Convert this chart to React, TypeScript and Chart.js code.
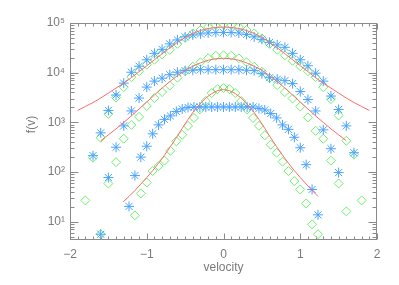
import React, { useEffect, useRef } from 'react';
import { Chart, registerables } from 'chart.js';
Chart.register(...registerables);

// velocity grid (coarse), used by top and middle profiles
const vGrid = [-1.9, -1.8, -1.7, -1.6, -1.5, -1.4, -1.3, -1.2, -1.1, -1.0, -0.9, -0.8, -0.7, -0.6, -0.5, -0.4, -0.3, -0.2, -0.1, 0,
  0.1, 0.2, 0.3, 0.4, 0.5, 0.6, 0.7, 0.8, 0.9, 1.0, 1.1, 1.2, 1.3, 1.4, 1.5, 1.6, 1.7, 1.8, 1.9];
// velocity grid (fine), used by the bottom profile
const vFine = [-1.308, -1.231, -1.154, -1.077, -1.0, -0.923, -0.846, -0.769, -0.692, -0.615, -0.538, -0.462, -0.385, -0.308, -0.231, -0.154, -0.077, 0,
  0.077, 0.154, 0.231, 0.308, 0.385, 0.462, 0.538, 0.615, 0.692, 0.769, 0.846, 0.923, 1.0, 1.077, 1.154, 1.231];

// ---- top profile ----
const topFitV = vGrid;
const topFit = [1740, 2090, 2510, 3090, 3890, 4900, 6170, 7940, 10500, 13800, 18200, 24000, 31600, 40700, 51300, 61700, 70800, 77600, 81300, 83000,
  81300, 77600, 70800, 61700, 51300, 40700, 31600, 24000, 18200, 13800, 10500, 7940, 6170, 4900, 3890, 3090, 2510, 2090, 1740];
const topStarV = vGrid.slice(2, 37);
const topStar = [214, 617, 1740, 3550, 6170, 10200, 13500, 18200, 24500, 29500, 38000, 45700, 52500, 57500, 60300, 63100, 64600, 64600,
  64600, 63100, 58900, 52500, 46800, 40700, 36300, 32400, 24500, 18200, 13800, 9770, 6760, 3390, 1820, 851, 245];
const topDiamondV = vGrid.slice(1, 38);
const topDiamond = [26.9, 195, 490, 1480, 3160, 5130, 8130, 10700, 14500, 18200, 23400, 28800, 38000, 50100, 61700, 72400, 83200, 91200, 93300,
  91200, 83200, 72400, 61700, 49000, 38000, 28800, 22400, 17400, 13500, 10700, 8130, 5130, 2950, 1380, 427, 224, 26.9];

// ---- middle profile ----
const midFitV = vGrid.slice(3, 36);
const midFit = [427, 562, 741, 1000, 1350, 1860, 2570, 3550, 4900, 6610, 8710, 11200, 13500, 15800, 17800, 19100, 19500,
  19100, 17800, 15800, 13500, 11200, 8710, 6610, 4900, 3550, 2570, 1860, 1350, 1000, 741, 562, 427];
const midStarV = vGrid.slice(3, 35);
const midStar = [5.62, 77.6, 316, 851, 1700, 3090, 5130, 6760, 7760, 9120, 10200, 11000, 11200, 11500, 11500, 11500, 11500,
  11500, 11500, 11200, 11000, 9550, 7940, 7410, 6920, 6030, 4170, 2880, 1700, 708, 295, 97.7];
const midDiamondV = vGrid.slice(3, 36);
const midDiamond = [5.62, 58.9, 158, 468, 891, 1290, 2140, 3090, 4070, 5500, 7940, 10700, 13200, 16200, 19500, 21900, 22400,
  21900, 19500, 16200, 13200, 10500, 7760, 5620, 4070, 3020, 2090, 1260, 676, 468, 170, 58.9, 16.2];

// ---- bottom profile ----
const lowFitV = vFine;
const lowFit = [25.1, 32.4, 42.7, 57.5, 77.6, 107, 151, 219, 324, 490, 759, 1150, 1700, 2340, 3090, 3800, 4370, 4570,
  4370, 3800, 3090, 2340, 1700, 1150, 759, 490, 324, 219, 151, 107, 77.6, 57.5, 42.7, 32.4];
const lowStarV = vFine.slice(1, 34);
const lowStar = [20.4, 85.1, 200, 331, 589, 891, 1150, 1350, 1660, 1860, 2000, 2040, 2040, 2040, 2040, 2040, 2040,
  2040, 2040, 2040, 2040, 2040, 1910, 1780, 1510, 1230, 891, 724, 501, 309, 141, 44.7, 13.8];
const lowDiamondV = vFine.slice(2, 34);
const lowDiamond = [13.5, 37.2, 61.7, 105, 132, 170, 269, 417, 562, 851, 1230, 1820, 2690, 3890, 4680, 4900,
  4680, 3890, 2690, 1820, 1230, 851, 550, 355, 245, 162, 105, 66.1, 44.7, 23.4, 8.91, 5.62];

// axes
const xMajorTicks = [-2, -1, 0, 1, 2];
const xMinorStep = 0.1;
const yDecades = [10, 100, 1000, 10000, 100000];
const yTickLabels = ['10¹', '10²', '10³', '10⁴', '10⁵'];
const xTitle = 'velocity';
const yTitle = 'f(v)';

const AXIS = '#8a8a8a';
const TEXT = '#7a7a7a';
const RED = '#ff6a6a';
const GREEN = '#6cf06c';
const BLUE = '#4aa3ff';
const FONT = 'Liberation Sans';

const pts = (xs: number[], ys: number[]) => ys.map((y, i) => ({ x: xs[i], y }));

const framePlugin = {
  id: 'idlFrame',
  beforeDatasetsDraw(chart: any) {
    const { ctx, chartArea: a, scales } = chart;
    const x = scales.x, y = scales.y;
    const L = Math.round(a.left) + 0.5, R = Math.round(a.right) - 0.5;
    const T = Math.round(a.top) + 0.5, B = Math.round(a.bottom) - 0.5;
    ctx.save();
    ctx.strokeStyle = AXIS;
    ctx.lineWidth = 1;
    ctx.strokeRect(L, T, R - L, B - T);
    ctx.beginPath();
    const n = Math.round((xMajorTicks[xMajorTicks.length - 1] - xMajorTicks[0]) / xMinorStep);
    for (let i = 0; i <= n; i++) {
      const v = xMajorTicks[0] + i * xMinorStep;
      const px = Math.round(x.getPixelForValue(v)) + 0.5;
      const major = i % 10 === 0;
      const len = major ? 6 : 3;
      ctx.moveTo(px, B); ctx.lineTo(px, B - len);
      ctx.moveTo(px, T); ctx.lineTo(px, T + len);
    }
    const ymin = y.min, ymax = y.max;
    for (let d = 1; d <= 100000; d *= 10) {
      for (let m = 1; m <= 9; m++) {
        const v = m * d;
        if (v < ymin || v > ymax) continue;
        const py = Math.round(y.getPixelForValue(v)) + 0.5;
        const len = m === 1 ? 8 : 4;
        ctx.moveTo(L, py); ctx.lineTo(L + len, py);
        ctx.moveTo(R, py); ctx.lineTo(R - len, py);
      }
    }
    ctx.stroke();
    ctx.restore();
  },
  afterDraw(chart: any) {
    const { ctx, chartArea: a } = chart;
    ctx.save();
    ctx.fillStyle = TEXT;
    ctx.font = `12px "${FONT}"`;
    ctx.textAlign = 'center';
    ctx.textBaseline = 'middle';
    ctx.translate(32, (a.top + a.bottom) / 2 - 7);
    ctx.rotate(-Math.PI / 2);
    ctx.fillText(yTitle, 0, 0);
    ctx.restore();
  },
};

export default function App() {
  const ref = useRef<HTMLCanvasElement>(null);
  useEffect(() => {
    const starDs = (xs: number[], ys: number[]) => ({
      type: 'scatter' as const, data: pts(xs, ys), showLine: false,
      pointStyle: 'star', pointRadius: 5, borderColor: BLUE, pointBorderColor: BLUE,
      backgroundColor: 'rgba(0,0,0,0)', pointBorderWidth: 1, order: 1,
    });
    const diaDs = (xs: number[], ys: number[]) => ({
      type: 'scatter' as const, data: pts(xs, ys), showLine: false,
      pointStyle: 'rectRot', pointRadius: 4.5, borderColor: GREEN, pointBorderColor: GREEN,
      backgroundColor: 'rgba(0,0,0,0)', pointBackgroundColor: 'rgba(0,0,0,0)', pointBorderWidth: 1, order: 2,
    });
    const fitDs = (xs: number[], ys: number[]) => ({
      type: 'line' as const, data: pts(xs, ys), borderColor: RED, borderWidth: 1,
      pointRadius: 0, fill: false, tension: 0, order: 0,
    });
    const chart = new Chart(ref.current as HTMLCanvasElement, {
      type: 'scatter',
      data: {
        datasets: [
          fitDs(topFitV, topFit), fitDs(midFitV, midFit), fitDs(lowFitV, lowFit),
          starDs(topStarV, topStar), starDs(midStarV, midStar), starDs(lowStarV, lowStar),
          diaDs(topDiamondV, topDiamond), diaDs(midDiamondV, midDiamond), diaDs(lowDiamondV, lowDiamond),
        ] as any,
      },
      options: {
        responsive: false,
        animation: false,
        events: [],
        layout: { padding: { top: 23, right: 22, left: 0, bottom: 0 } },
        plugins: { legend: { display: false }, tooltip: { enabled: false } },
        scales: {
          x: {
            type: 'linear', min: -2, max: 2,
            grid: { display: false, drawTicks: false }, border: { display: false },
            afterBuildTicks: (s: any) => { s.ticks = xMajorTicks.map((v) => ({ value: v })); },
            afterFit: (s: any) => { s.height = 45; },
            ticks: {
              padding: 7, color: TEXT, font: { family: FONT, size: 12 },
              callback: (v: any) => (Number(v) < 0 ? '\u2212' + Math.abs(Number(v)) : String(v)),
            },
            title: { display: true, text: xTitle, color: TEXT, font: { family: FONT, size: 12 }, padding: { top: 0, bottom: 10 } },
          },
          y: {
            type: 'logarithmic', min: 4.3, max: 100000,
            grid: { display: false, drawTicks: false }, border: { display: false },
            afterBuildTicks: (s: any) => { s.ticks = yDecades.map((v) => ({ value: v })); },
            afterFit: (s: any) => { s.width = 70; },
            ticks: {
              padding: 5, color: TEXT, font: { family: FONT, size: 12 },
              callback: (v: any) => { const i = yDecades.indexOf(Number(v)); return i >= 0 ? yTickLabels[i] : ''; },
            },
            title: { display: false },
          },
        },
      } as any,
      plugins: [framePlugin],
    });
    return () => chart.destroy();
  }, []);
  return (
    <div style={{ position: 'fixed', left: 0, top: 0, width: 399, height: 285, background: '#ffffff' }}>
      <canvas ref={ref} width={399} height={285} style={{ display: 'block' }} />
    </div>
  );
}
